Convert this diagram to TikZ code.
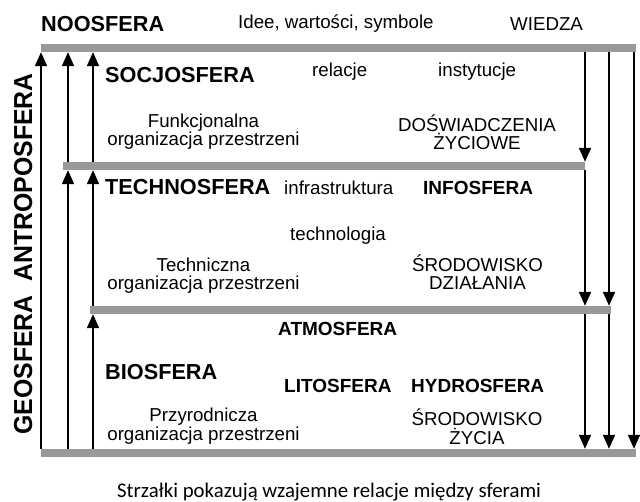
\documentclass[tikz,border=0pt]{standalone}
\usepackage{fontspec}
\setmainfont{Liberation Sans}
\newfontfamily\podpisfont{Carlito}
\usepackage{graphicx}
\usetikzlibrary{arrows.meta}
\definecolor{SzaryPas}{RGB}{153,153,153}

\begin{document}
\begin{tikzpicture}[x=1pt, y=-1pt,
	pas/.style={rectangle, fill=SzaryPas, draw=none, inner sep=0pt, minimum height=8pt},
	sfera/.style={font=\bfseries\fontsize{21.7}{24}\selectfont, inner sep=0pt, anchor=base west},
	podsfera/.style={font=\bfseries\fontsize{19}{22}\selectfont, inner sep=0pt, anchor=base west},
	opis/.style={font=\fontsize{18.7}{18}\selectfont, inner sep=0pt, anchor=base west},
	blok/.style={font=\fontsize{18.7}{18}\selectfont, inner sep=0pt, align=center, anchor=base},
	strzalka/.style={line width=2pt, -{Triangle[length=14pt,width=12pt]}}]
			\useasboundingbox (0,0) rectangle (640,502);
			% Szare pasy
			\node[pas, minimum width=595pt] (pasA) at (338.5,48) {};
			\node[pas, minimum width=522pt] (pasB) at (324,166) {};
			\node[pas, minimum width=521pt] (pasC) at (350.5,310) {};
			\node[pas, minimum width=595pt] (pasD) at (338.5,453) {};
			%
			% Kolumny strzalek
			\coordinate (g1) at (41,0);
			\coordinate (g2) at (68,0);
			\coordinate (g3) at (93,0);
			\coordinate (d1) at (585,0);
			\coordinate (d2) at (609,0);
			\coordinate (d3) at (634,0);
			%
			% Strzalki w gore
			\draw[strzalka] (g1 |- pasD.north) -- (g1 |- pasA.south);
			\draw[strzalka] (g2 |- pasD.north) -- (g2 |- pasB.south);
			\draw[strzalka] (g2 |- pasB.north) -- (g2 |- pasA.south);
			\draw[strzalka] (g3 |- pasD.north) -- (g3 |- pasC.south);
			\draw[strzalka] (g3 |- pasC.north) -- (g3 |- pasB.south);
			\draw[strzalka] (g3 |- pasB.north) -- (g3 |- pasA.south);
			%
			% Strzalki w dol
			\draw[strzalka] (d1 |- pasA.south) -- (d1 |- pasB.north);
			\draw[strzalka] (d1 |- pasB.south) -- (d1 |- pasC.north);
			\draw[strzalka] (d1 |- pasC.south) -- (d1 |- pasD.north);
			\draw[strzalka] (d2 |- pasA.south) -- (d2 |- pasC.north);
			\draw[strzalka] (d2 |- pasC.south) -- (d2 |- pasD.north);
			\draw[strzalka] (d3 |- pasA.south) -- (d3 |- pasD.north);
			%
			% Noosfera
			\node[sfera] (noo) at (41,31.5) {NOOSFERA};
			\node[opis] (idee) at (238,29) {Idee, warto\'sci, symbole};
			\node[opis] (wiedza) at (510,30.5) {WIEDZA};
			%
			% Socjosfera
			\node[sfera] (socjo) at (105,82.5) {SOCJOSFERA};
			\node[opis] (relacje) at (312,77) {relacje};
			\node[opis] (instyt) at (438,77) {instytucje};
			\node[blok] (funkc) at (203.5,146) {Funkcjonalna\\organizacja przestrzeni};
			\node[blok] (dosw) at (477,150) {DO\'SWIADCZENIA\\\.ZYCIOWE};
			%
			% Technosfera
			\node[sfera] (techno) at (105,195) {TECHNOSFERA};
			\node[opis] (infra) at (284,195) {infrastruktura};
			\node[podsfera] (info) at (423,195) {INFOSFERA};
			\node[opis] (technol) at (290,240.5) {technologia};
			\node[blok] (techn) at (203.5,290) {Techniczna\\organizacja przestrzeni};
			\node[blok] (dzial) at (477.5,290) {\'SRODOWISKO\\DZIA\L{}ANIA};
			%
			% Biosfera
			\node[podsfera] (atmo) at (278,336) {ATMOSFERA};
			\node[sfera] (bio) at (105,380) {BIOSFERA};
			\node[podsfera] (lito) at (284,393) {LITOSFERA};
			\node[podsfera] (hydro) at (411,393) {HYDROSFERA};
			\node[blok] (przyr) at (203.5,440) {Przyrodnicza\\organizacja przestrzeni};
			\node[blok] (zycia) at (477,445) {\'SRODOWISKO\\[2pt]\.ZYCIA};
			%
			% Opis pionowy
			\node[font=\bfseries\fontsize{26}{28}\selectfont, inner sep=0pt, anchor=base, rotate=90] (geo) at (32,254) {\scalebox{0.955}[1]{GEOSFERA\ \ ANTROPOSFERA}};
			%
			% Podpis
			\node[font=\podpisfont\fontsize{20.8}{22}\selectfont, inner sep=0pt, anchor=base] (podpis) at (329,497) {Strza\l{}ki pokazuj\k{a} wzajemne relacje mi\k{e}dzy sferami};
		\end{tikzpicture}
\end{document}
